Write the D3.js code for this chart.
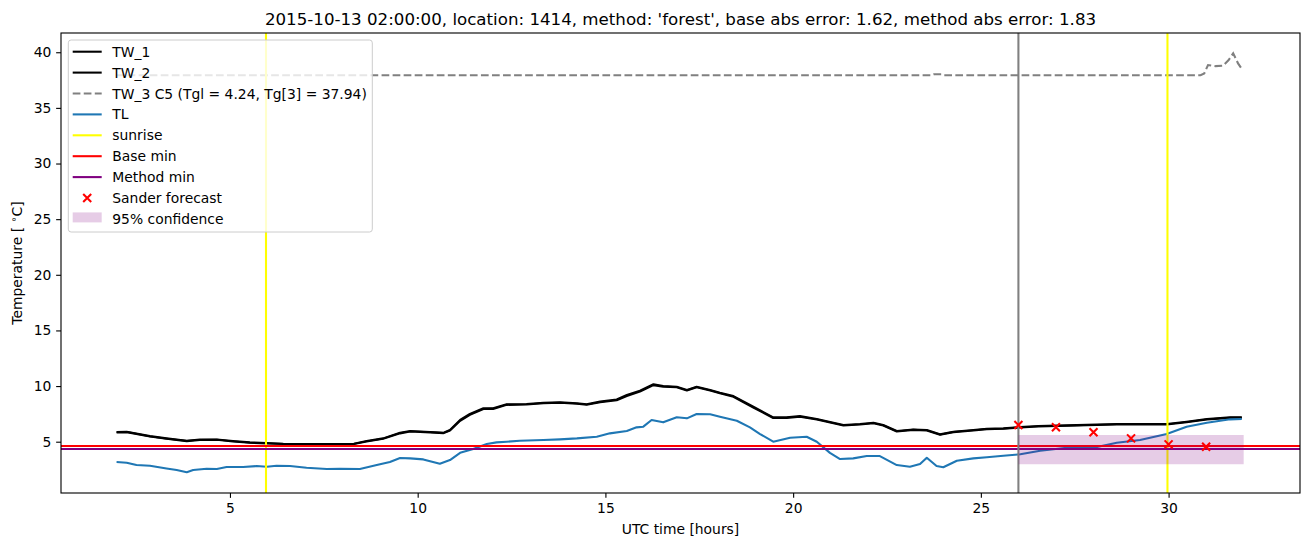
<!DOCTYPE html>
<html>
<head>
<meta charset="utf-8">
<script src="https://cdn.jsdelivr.net/npm/d3@7/dist/d3.min.js"></script>
<style>
  body { margin: 0; background: #fff; }
  svg { display: block; font-family: "DejaVu Sans", sans-serif; }
</style>
</head>
<body>
<svg id="chart" width="1310" height="547"></svg>
<script>
// ---------------- data ----------------
const titleText = "2015-10-13 02:00:00, location: 1414, method: 'forest', base abs error: 1.62, method abs error: 1.83";
const xTicks = [5, 10, 15, 20, 25, 30];
const yTicks = [5, 10, 15, 20, 25, 30, 35, 40];

const twTimes = [1.98, 2.25, 2.87, 3.31, 3.85, 4.2, 4.65, 5.08, 5.53, 5.98, 6.42, 7.5, 8.3, 8.64, 9.08, 9.53, 9.8, 10.33, 10.69, 10.86, 11.13, 11.39, 11.75, 12.01, 12.37, 12.9, 13.35, 13.79, 14.24, 14.5, 14.86, 15.3, 15.57, 15.92, 16.28, 16.54, 16.9, 17.17, 17.43, 17.79, 18.05, 18.41, 18.94, 19.47, 19.83, 20.18, 20.63, 21.34, 21.78, 22.14, 22.4, 22.76, 23.2, 23.56, 23.91, 24.27, 24.8, 25.16, 25.6, 26.05, 26.53, 27.29, 28.62, 29.95, 30.48, 31.02, 31.64, 31.95];
const tw1Values = [5.87, 5.9, 5.5, 5.3, 5.09, 5.2, 5.2, 5.06, 4.94, 4.88, 4.82, 4.8, 4.82, 5.06, 5.3, 5.8, 5.96, 5.87, 5.8, 6.05, 6.95, 7.49, 8.0, 8.0, 8.36, 8.39, 8.5, 8.54, 8.45, 8.36, 8.6, 8.8, 9.19, 9.58, 10.16, 10.0, 9.94, 9.64, 9.94, 9.64, 9.4, 9.1, 8.14, 7.19, 7.19, 7.3, 7.04, 6.5, 6.59, 6.7, 6.5, 5.96, 6.1, 6.05, 5.66, 5.9, 6.05, 6.17, 6.2, 6.32, 6.41, 6.47, 6.59, 6.59, 6.8, 7.04, 7.19, 7.19];
const tw2Values = [5.82, 5.86, 5.46, 5.26, 5.05, 5.16, 5.17, 5.02, 4.9, 4.84, 4.79, 4.77, 4.79, 5.02, 5.26, 5.75, 5.92, 5.84, 5.77, 6.0, 6.88, 7.42, 7.94, 7.95, 8.31, 8.35, 8.46, 8.5, 8.41, 8.32, 8.54, 8.72, 9.1, 9.5, 10.08, 9.95, 9.9, 9.6, 9.9, 9.6, 9.35, 9.04, 8.07, 7.13, 7.14, 7.25, 6.99, 6.46, 6.55, 6.66, 6.46, 5.92, 6.06, 6.01, 5.62, 5.86, 6.01, 6.13, 6.16, 6.28, 6.37, 6.43, 6.55, 6.55, 6.75, 6.99, 7.14, 7.15];

const tw3Times = [1.98, 23.7, 23.75, 23.95, 24.0, 30.85, 30.95, 31.05, 31.25, 31.45, 31.6, 31.72, 31.85, 31.95];
const tw3Values = [37.94, 37.94, 38.02, 38.02, 37.94, 37.94, 38.1, 38.85, 38.75, 38.8, 39.3, 39.9, 39.0, 38.5];

const tlTimes = [1.98, 2.25, 2.51, 2.87, 3.31, 3.58, 3.85, 4.02, 4.38, 4.65, 4.91, 5.35, 5.71, 5.98, 6.24, 6.6, 7.04, 7.58, 7.93, 8.46, 8.91, 9.26, 9.53, 9.8, 10.15, 10.59, 10.86, 11.13, 11.48, 11.84, 12.1, 12.37, 12.72, 13.35, 13.79, 14.24, 14.77, 15.12, 15.57, 15.83, 16.01, 16.23, 16.54, 16.9, 17.17, 17.43, 17.79, 18.05, 18.5, 18.85, 19.12, 19.47, 19.92, 20.36, 20.63, 20.98, 21.25, 21.6, 21.96, 22.31, 22.76, 23.11, 23.38, 23.56, 23.82, 24.0, 24.36, 24.8, 25.16, 25.6, 26.05, 26.58, 27.29, 28.0, 28.62, 29.24, 29.95, 30.48, 31.02, 31.64, 31.95];
const tlValues = [3.17, 3.11, 2.9, 2.84, 2.6, 2.45, 2.25, 2.45, 2.57, 2.54, 2.72, 2.72, 2.81, 2.75, 2.84, 2.81, 2.66, 2.54, 2.57, 2.54, 2.9, 3.17, 3.53, 3.5, 3.41, 3.02, 3.35, 4.0, 4.34, 4.79, 4.94, 5.0, 5.09, 5.15, 5.21, 5.3, 5.45, 5.75, 5.96, 6.29, 6.35, 6.95, 6.74, 7.19, 7.1, 7.49, 7.46, 7.25, 6.88, 6.29, 5.69, 5.0, 5.36, 5.45, 5.0, 4.0, 3.44, 3.5, 3.71, 3.71, 2.9, 2.75, 2.99, 3.56, 2.81, 2.7, 3.29, 3.5, 3.6, 3.74, 3.87, 4.19, 4.46, 4.46, 4.91, 5.15, 5.69, 6.35, 6.7, 7.01, 7.04];

const sunriseTimes = [5.96, 29.97];
const forecastStart = 26;
const baseMin = 4.61;
const methodMin = 4.35;
const forecastTimes = [26, 27, 28, 29, 30, 31];
const forecastValues = [6.5, 6.29, 5.84, 5.3, 4.76, 4.55];
const confTimes = [26, 32];
const confLow = [2.97, 2.97];
const confHigh = [5.6, 5.6];

const legendLabels = ["TW_1", "TW_2", "TW_3 C5 (Tgl = 4.24, Tg[3] = 37.94)", "TL", "sunrise", "Base min", "Method min", "Sander forecast", "95% confidence"];

// ---------------- layout ----------------
const svg = d3.select("#chart");
const M = { left: 61, right: 1300, top: 33, bottom: 493 };
const x = d3.scaleLinear().domain([0.5, 33.5]).range([M.left, M.right]);
const y = d3.scaleLinear().domain([0.39, 41.73]).range([M.bottom, M.top]);
const pt = 100 / 72;
const LW = 1.5 * pt;

svg.append("defs").append("clipPath").attr("id", "clip")
  .append("rect").attr("x", M.left).attr("y", M.top)
  .attr("width", M.right - M.left).attr("height", M.bottom - M.top);

const plot = svg.append("g").attr("clip-path", "url(#clip)");
const line = d3.line().x(d => x(d[0])).y(d => y(d[1]));
const zip = (a, b) => a.map((v, i) => [v, b[i]]);

// TW lines
plot.append("path").datum(zip(twTimes, tw1Values)).attr("d", line)
  .attr("fill", "none").attr("stroke", "#000").attr("stroke-width", LW).attr("stroke-linejoin", "round");
plot.append("path").datum(zip(twTimes, tw2Values)).attr("d", line)
  .attr("fill", "none").attr("stroke", "#000").attr("stroke-width", LW).attr("stroke-linejoin", "round");
plot.append("path").datum(zip(tw3Times, tw3Values)).attr("d", line)
  .attr("fill", "none").attr("stroke", "#808080").attr("stroke-width", LW)
  .attr("stroke-dasharray", `${3.7 * LW},${1.6 * LW}`);
// TL
plot.append("path").datum(zip(tlTimes, tlValues)).attr("d", line)
  .attr("fill", "none").attr("stroke", "#1f77b4").attr("stroke-width", LW).attr("stroke-linejoin", "round");

// sunrise
sunriseTimes.forEach(t => {
  plot.append("line").attr("x1", x(t)).attr("x2", x(t)).attr("y1", M.top).attr("y2", M.bottom)
    .attr("stroke", "#ffff00").attr("stroke-width", LW);
});
// base/method min
plot.append("line").attr("x1", M.left).attr("x2", M.right).attr("y1", y(baseMin)).attr("y2", y(baseMin))
  .attr("stroke", "#ff0000").attr("stroke-width", LW);
plot.append("line").attr("x1", M.left).attr("x2", M.right).attr("y1", y(methodMin)).attr("y2", y(methodMin))
  .attr("stroke", "#800080").attr("stroke-width", LW);
// forecast start
plot.append("line").attr("x1", x(forecastStart)).attr("x2", x(forecastStart)).attr("y1", M.top).attr("y2", M.bottom)
  .attr("stroke", "#808080").attr("stroke-width", LW);

// confidence band
const area = d3.area().x(d => x(d[0])).y0(d => y(d[1])).y1(d => y(d[2]));
plot.append("path").datum(confTimes.map((t, i) => [t, confLow[i], confHigh[i]])).attr("d", area)
  .attr("fill", "#800080").attr("fill-opacity", 0.2);

// forecast markers
const mk = 4;
const markG = plot.append("g");
forecastTimes.forEach((t, i) => {
  const cx = x(t), cy = y(forecastValues[i]);
  markG.append("path").attr("d", `M${cx - mk},${cy - mk}L${cx + mk},${cy + mk}M${cx - mk},${cy + mk}L${cx + mk},${cy - mk}`)
    .attr("stroke", "#ff0000").attr("stroke-width", LW).attr("fill", "none");
});

// ---------------- axes ----------------
const fs = 10 * pt;
const xAxis = d3.axisBottom(x).tickValues(xTicks).tickSize(3.5 * pt).tickPadding(3.5 * pt).tickFormat(d3.format("d"));
const yAxis = d3.axisLeft(y).tickValues(yTicks).tickSize(3.5 * pt).tickPadding(3.5 * pt).tickFormat(d3.format("d"));
const gx = svg.append("g").attr("transform", `translate(0,${M.bottom})`).call(xAxis);
const gy = svg.append("g").attr("transform", `translate(${M.left},0)`).call(yAxis);
[gx, gy].forEach(g => {
  g.select(".domain").remove();
  g.selectAll(".tick line").attr("stroke", "#000").attr("stroke-width", 0.8 * pt);
  g.selectAll(".tick text").attr("font-size", fs).attr("fill", "#000").attr("font-family", "DejaVu Sans");
});
// frame
svg.append("rect").attr("x", M.left).attr("y", M.top).attr("width", M.right - M.left).attr("height", M.bottom - M.top)
  .attr("fill", "none").attr("stroke", "#000").attr("stroke-width", 0.8 * pt);

// labels
svg.append("text").attr("x", (M.left + M.right) / 2).attr("y", 24.7).attr("text-anchor", "middle")
  .attr("font-size", 12 * pt).attr("fill", "#000").text(titleText);
svg.append("text").attr("x", (M.left + M.right) / 2).attr("y", 534).attr("text-anchor", "middle")
  .attr("font-size", fs).attr("fill", "#000").text("UTC time [hours]");
const yl = svg.append("text").attr("transform", `translate(22,${(M.top + M.bottom) / 2}) rotate(-90)`)
  .attr("text-anchor", "middle").attr("font-size", fs).attr("fill", "#000");
yl.append("tspan").text("Temperature [ ");
yl.append("tspan").attr("font-size", fs * 0.7).attr("dy", -5).text("∘");
yl.append("tspan").attr("dy", 5).text("C]");

// ---------------- legend ----------------
const lg = svg.append("g");
lg.append("rect").attr("x", 68.3).attr("y", 40).attr("width", 304).attr("height", 192).attr("rx", 2.8)
  .attr("fill", "#fff").attr("fill-opacity", 0.8).attr("stroke", "#cccccc").attr("stroke-width", 1);
const styles = [
  { type: "line", color: "#000" },
  { type: "line", color: "#000" },
  { type: "dash", color: "#808080" },
  { type: "line", color: "#1f77b4" },
  { type: "line", color: "#ffff00" },
  { type: "line", color: "#ff0000" },
  { type: "line", color: "#800080" },
  { type: "marker", color: "#ff0000" },
  { type: "patch", color: "#800080" }
];
legendLabels.forEach((lab, i) => {
  const cy = 51.7 + i * 20.9;
  const s = styles[i];
  const x0 = 72.7, x1 = 101.7;
  if (s.type === "line" || s.type === "dash") {
    const l = lg.append("line").attr("x1", x0).attr("x2", x1).attr("y1", cy).attr("y2", cy)
      .attr("stroke", s.color).attr("stroke-width", LW);
    if (s.type === "dash") l.attr("stroke-dasharray", `${3.7 * LW},${1.6 * LW}`);
  } else if (s.type === "marker") {
    const cx = (x0 + x1) / 2;
    lg.append("path").attr("d", `M${cx - mk},${cy - mk}L${cx + mk},${cy + mk}M${cx - mk},${cy + mk}L${cx + mk},${cy - mk}`)
      .attr("stroke", s.color).attr("stroke-width", LW);
  } else {
    lg.append("rect").attr("x", x0).attr("y", cy - 6.5).attr("width", x1 - x0).attr("height", 10)
      .attr("fill", s.color).attr("fill-opacity", 0.2);
  }
  lg.append("text").attr("x", 112.3).attr("y", cy).attr("dy", "0.36em").attr("font-size", fs).attr("fill", "#000").text(lab);
});
</script>
</body>
</html>
